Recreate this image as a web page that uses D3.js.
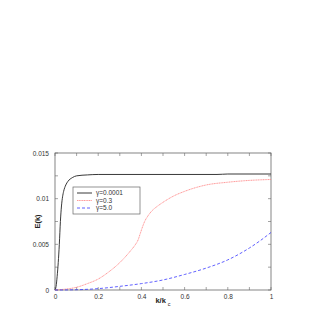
<!DOCTYPE html>
<html>
<head>
<meta charset="utf-8">
<script src="https://cdn.jsdelivr.net/npm/d3@7"></script>
<style>
  body { margin: 0; background: #fff; }
  svg text { font-family: "Liberation Sans", Arial, sans-serif; }
</style>
</head>
<body>
<div id="chart"></div>
<script>
// curve values
const kBlack = [0, 0.005, 0.01, 0.015, 0.02, 0.025, 0.03, 0.035, 0.04, 0.05, 0.06, 0.08, 0.1, 0.15, 0.2, 0.5, 0.75, 0.8, 1.0];
const eBlack = [0, 0.0004, 0.0015, 0.003, 0.005, 0.0075, 0.0092, 0.0102, 0.0108, 0.0115, 0.0119, 0.0123, 0.0125, 0.0126, 0.01265, 0.01265, 0.01265, 0.0127, 0.0127];
const kRed = [0, 0.05, 0.1, 0.15, 0.2, 0.25, 0.3, 0.35, 0.37, 0.385, 0.395, 0.405, 0.415, 0.43, 0.45, 0.47, 0.5, 0.55, 0.6, 0.65, 0.7, 0.8, 0.9, 1.0];
const eRed = [0, 0.0001, 0.0003, 0.0007, 0.0012, 0.0020, 0.0030, 0.0043, 0.0049, 0.0055, 0.0062, 0.0069, 0.0075, 0.0081, 0.0087, 0.0091, 0.0096, 0.0103, 0.0108, 0.0112, 0.0115, 0.0118, 0.0120, 0.0121];
const kBlue = [0, 0.1, 0.2, 0.3, 0.4, 0.5, 0.6, 0.7, 0.8, 0.85, 0.9, 0.95, 1.0];
const eBlue = [0, 0.00003, 0.00015, 0.0004, 0.0007, 0.0011, 0.0017, 0.0024, 0.0033, 0.0039, 0.0046, 0.0054, 0.0063];
const seriesNames = ["γ=0.0001", "γ=0.3", "γ=5.0"];
const xTicks = [0, 0.2, 0.4, 0.6, 0.8, 1];
const yTicks = [0, 0.005, 0.01, 0.015];

const w = 327, h = 327;
const m = { left: 55, right: 56, top: 153, bottom: 37 };

const svg = d3.select("#chart").append("svg").attr("width", w).attr("height", h);

const x = d3.scaleLinear().domain([0, 1]).range([m.left, w - m.right]);
const y = d3.scaleLinear().domain([0, 0.015]).range([h - m.bottom, m.top]);

const frame = "#666";
const tl = 3;

// minor ticks on all four sides
const xMinor = d3.range(0, 1.0001, 0.1);
const yMinor = d3.range(0, 0.01501, 0.0025);
const tg = svg.append("g").attr("stroke", frame).attr("stroke-width", 0.6);
xMinor.forEach(v => {
  tg.append("line").attr("x1", x(v)).attr("x2", x(v)).attr("y1", y(0)).attr("y2", y(0) - tl);
  tg.append("line").attr("x1", x(v)).attr("x2", x(v)).attr("y1", y(0.015)).attr("y2", y(0.015) + tl);
});
yMinor.forEach(v => {
  tg.append("line").attr("x1", x(0)).attr("x2", x(0) + tl).attr("y1", y(v)).attr("y2", y(v));
  tg.append("line").attr("x1", x(1)).attr("x2", x(1) - tl).attr("y1", y(v)).attr("y2", y(v));
});

// tick labels via axes
svg.append("g")
  .attr("transform", `translate(0,${y(0)})`)
  .call(d3.axisBottom(x).tickValues(xTicks).tickSize(0).tickPadding(4).tickFormat(d3.format("")))
  .call(g => g.select(".domain").remove())
  .selectAll("text").attr("font-size", 6.5).attr("fill", "#333");

svg.append("g")
  .attr("transform", `translate(${x(0)},0)`)
  .call(d3.axisLeft(y).tickValues(yTicks).tickSize(0).tickPadding(6).tickFormat(d3.format("")))
  .call(g => g.select(".domain").remove())
  .selectAll("text").attr("font-size", 6.5).attr("fill", "#333");

// frame
svg.append("rect")
  .attr("x", x(0)).attr("y", y(0.015))
  .attr("width", x(1) - x(0)).attr("height", y(0) - y(0.015))
  .attr("fill", "none").attr("stroke", frame).attr("stroke-width", 0.8);

const line = d3.line().x(d => x(d[0])).y(d => y(d[1])).curve(d3.curveMonotoneX);

const series = [
  { k: kBlack, e: eBlack, color: "#222", dash: null, width: 0.9 },
  { k: kRed, e: eRed, color: "#ff8080", dash: "1.2,0.5", width: 0.8 },
  { k: kBlue, e: eBlue, color: "#3838ff", dash: "3,2", width: 0.8 }
];

series.forEach(s => {
  svg.append("path")
    .datum(s.k.map((v, i) => [v, s.e[i]]))
    .attr("d", line)
    .attr("fill", "none")
    .attr("stroke", s.color)
    .attr("stroke-width", s.width)
    .attr("stroke-dasharray", s.dash);
});

// legend
const lg = svg.append("g").attr("transform", "translate(73,187)");
lg.append("rect").attr("width", 67).attr("height", 27)
  .attr("fill", "#fff").attr("stroke", frame).attr("stroke-width", 0.7);
series.forEach((s, i) => {
  const yy = 6 + i * 7.5;
  lg.append("line").attr("x1", 4).attr("x2", 19).attr("y1", yy).attr("y2", yy)
    .attr("stroke", s.color).attr("stroke-width", s.width).attr("stroke-dasharray", s.dash);
  lg.append("text").attr("x", 23).attr("y", yy + 2.2)
    .attr("font-size", 6.5).attr("fill", "#333").text(seriesNames[i]);
});

// axis titles
svg.append("text")
  .attr("transform", `translate(40,${(y(0) + y(0.015)) / 2}) rotate(-90)`)
  .attr("text-anchor", "middle")
  .attr("font-size", 7.5).attr("font-weight", "bold").attr("fill", "#222")
  .text("E(k)");

const xl = svg.append("text")
  .attr("x", 163).attr("y", 303)
  .attr("text-anchor", "middle")
  .attr("font-size", 7.5).attr("font-weight", "bold").attr("fill", "#222");
xl.append("tspan").text("k/k");
xl.append("tspan").attr("dx", 2).attr("dy", 2.5).attr("font-size", 5.5).attr("font-weight", "normal").text("c");
</script>
</body>
</html>
